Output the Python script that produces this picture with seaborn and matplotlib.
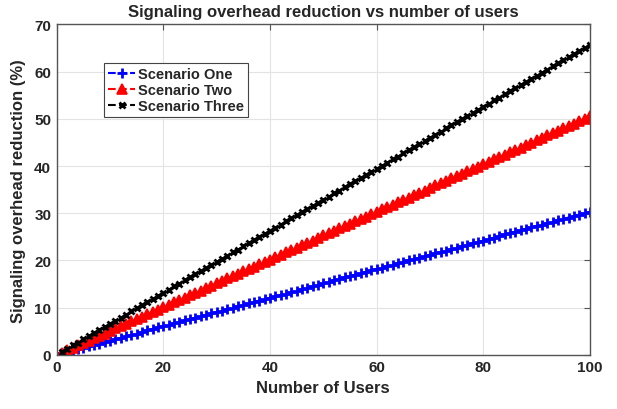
import numpy as np
import pandas as pd
import matplotlib
matplotlib.use("Agg")
import matplotlib.pyplot as plt
import seaborn as sns

users = list(range(1, 101))

scenario_one = [
    0.3, 0.6, 0.9, 1.2, 1.5, 1.8, 2.1, 2.4, 2.7, 3.0,
    3.3, 3.6, 3.9, 4.2, 4.5, 4.8, 5.2, 5.5, 5.8, 6.1,
    6.4, 6.7, 7.0, 7.3, 7.6, 7.9, 8.2, 8.5, 8.8, 9.1,
    9.4, 9.7, 10.0, 10.3, 10.6, 10.9, 11.2, 11.5, 11.8, 12.1,
    12.4, 12.7, 13.0, 13.3, 13.6, 13.9, 14.2, 14.5, 14.8, 15.2,
    15.5, 15.8, 16.1, 16.4, 16.7, 17.0, 17.3, 17.6, 17.9, 18.2,
    18.5, 18.8, 19.1, 19.4, 19.7, 20.0, 20.3, 20.6, 20.9, 21.2,
    21.5, 21.8, 22.1, 22.4, 22.7, 23.0, 23.3, 23.6, 23.9, 24.2,
    24.5, 24.8, 25.1, 25.5, 25.8, 26.1, 26.4, 26.7, 27.0, 27.3,
    27.6, 27.9, 28.2, 28.5, 28.8, 29.1, 29.4, 29.7, 30.0, 30.3,
]

scenario_two = [
    0.5, 1.0, 1.5, 2.0, 2.5, 3.0, 3.5, 4.0, 4.5, 5.1,
    5.6, 6.1, 6.6, 7.1, 7.6, 8.1, 8.6, 9.1, 9.6, 10.1,
    10.6, 11.1, 11.6, 12.1, 12.6, 13.1, 13.6, 14.1, 14.6, 15.2,
    15.7, 16.2, 16.7, 17.2, 17.7, 18.2, 18.7, 19.2, 19.7, 20.2,
    20.7, 21.2, 21.7, 22.2, 22.7, 23.2, 23.7, 24.2, 24.7, 25.3,
    25.8, 26.3, 26.8, 27.3, 27.8, 28.3, 28.8, 29.3, 29.8, 30.3,
    30.8, 31.3, 31.8, 32.3, 32.8, 33.3, 33.8, 34.3, 34.8, 35.4,
    35.9, 36.4, 36.9, 37.4, 37.9, 38.4, 38.9, 39.4, 39.9, 40.4,
    40.9, 41.4, 41.9, 42.4, 42.9, 43.4, 43.9, 44.4, 44.9, 45.5,
    46.0, 46.5, 47.0, 47.5, 48.0, 48.5, 49.0, 49.5, 50.0, 50.5,
]

scenario_three = [
    0.7, 1.3, 2.0, 2.6, 3.3, 3.9, 4.6, 5.3, 5.9, 6.6,
    7.2, 7.9, 8.5, 9.2, 9.9, 10.5, 11.2, 11.8, 12.5, 13.1,
    13.8, 14.5, 15.1, 15.8, 16.4, 17.1, 17.7, 18.4, 19.1, 19.7,
    20.4, 21.0, 21.7, 22.3, 23.0, 23.7, 24.3, 25.0, 25.6, 26.3,
    26.9, 27.6, 28.3, 28.9, 29.6, 30.2, 30.9, 31.5, 32.2, 32.9,
    33.5, 34.2, 34.8, 35.5, 36.1, 36.8, 37.4, 38.1, 38.8, 39.4,
    40.1, 40.7, 41.4, 42.0, 42.7, 43.4, 44.0, 44.7, 45.3, 46.0,
    46.6, 47.3, 48.0, 48.6, 49.3, 49.9, 50.6, 51.2, 51.9, 52.6,
    53.2, 53.9, 54.5, 55.2, 55.8, 56.5, 57.2, 57.8, 58.5, 59.1,
    59.8, 60.4, 61.1, 61.8, 62.4, 63.1, 63.7, 64.4, 65.0, 65.7,
]

sns.set_style("whitegrid")
plt.rcParams['font.family'] = ['Liberation Sans', 'DejaVu Sans']
plt.rcParams['font.weight'] = 'bold'

fig = plt.figure(figsize=(6.17, 4.10), dpi=100)
ax = fig.add_axes([0.092, 0.132, 0.864, 0.806])

# name, values, colour, marker, marker size, edge width
series = [
    ("Scenario One", scenario_one, "blue", "+", 7, 2.0),
    ("Scenario Two", scenario_two, "red", "^", 6.5, 1.2),
    ("Scenario Three", scenario_three, "black", "x", 5, 2.0),
]
for name, vals, col, mk, ms, mew in series:
    sns.lineplot(x=users, y=vals, ax=ax, color=col, marker=mk, linestyle="--",
                 linewidth=1.5, markersize=ms, markeredgewidth=mew,
                 markerfacecolor=col, markeredgecolor=col, label=name)

ax.set_xlim(0, 100)
ax.set_ylim(0, 70)
ax.set_xticks([0, 20, 40, 60, 80, 100])
ax.set_yticks(range(0, 71, 10))
ax.grid(True, color="#e3e3e3", linewidth=0.8)
for s in ax.spines.values():
    s.set_color("#555555")
    s.set_linewidth(1.0)
ax.tick_params(direction="in", length=4, width=0.8, color="#555555",
               labelsize=11, top=True, right=True, pad=4)
for lab in ax.get_xticklabels() + ax.get_yticklabels():
    lab.set_fontweight("bold")

ax.set_xlabel("Number of Users", fontsize=12, fontweight="bold", labelpad=4)
ax.set_ylabel("Signaling overhead reduction (%)", fontsize=12, fontweight="bold", labelpad=6)
ax.set_title("Signaling overhead reduction vs number of users", fontsize=12, fontweight="bold", pad=6)

leg = ax.legend(loc="upper left", bbox_to_anchor=(0.075, 0.905), fontsize=10.5,
                frameon=True, fancybox=False, edgecolor="#444444", framealpha=1,
                handlelength=1.8, handletextpad=0.2, borderpad=0.3, labelspacing=0.12)
leg.get_frame().set_linewidth(0.8)
for t in leg.get_texts():
    t.set_fontweight("bold")

fig.savefig("out.png", dpi=100)
